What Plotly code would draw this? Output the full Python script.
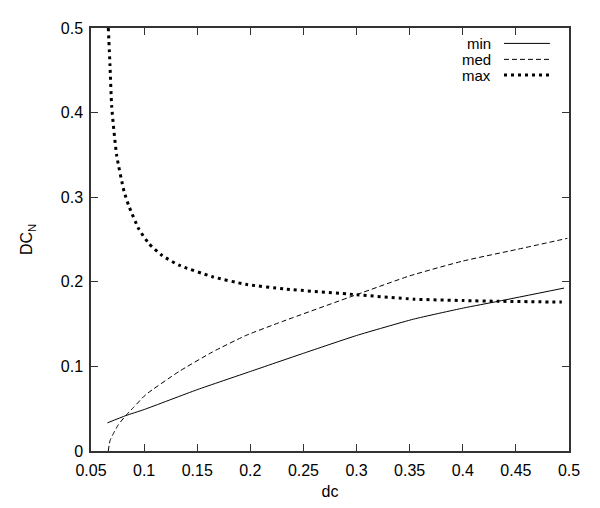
import plotly.graph_objects as go

# ---- data ----
min_x = [0.0655, 0.0827, 0.100, 0.150, 0.200, 0.250, 0.300, 0.3535, 0.4006, 0.4335, 0.4954]
min_y = [0.0333, 0.0418, 0.0490, 0.0725, 0.0940, 0.1155, 0.1365, 0.1558, 0.1690, 0.1770, 0.1926]

med_x = [0.0663, 0.0672, 0.0680, 0.0710, 0.0757, 0.0827, 0.0900, 0.1015, 0.1329, 0.1643, 0.1957,
         0.2300, 0.3000, 0.3500, 0.4000, 0.4500, 0.4985]
med_y = [0.0000, 0.0080, 0.0125, 0.0205, 0.0310, 0.0418, 0.0515, 0.0665, 0.0940, 0.1170, 0.1365,
         0.1530, 0.1848, 0.2070, 0.2245, 0.2380, 0.2514]

max_x = [0.0663, 0.0679, 0.0695, 0.0742, 0.0811, 0.0858, 0.0952, 0.1046, 0.1171, 0.1329,
         0.1643, 0.1957, 0.2333, 0.3000, 0.3535, 0.4006, 0.4335, 0.4932]
max_y = [0.500, 0.455, 0.407, 0.349, 0.307, 0.289, 0.262, 0.245, 0.231, 0.2196,
         0.206, 0.197, 0.1914, 0.1848, 0.1795, 0.1778, 0.1770, 0.1760]

x_tickvals = [0.05, 0.1, 0.15, 0.2, 0.25, 0.3, 0.35, 0.4, 0.45, 0.5]
x_ticktext = ["0.05", "0.1", "0.15", "0.2", "0.25", "0.3", "0.35", "0.4", "0.45", "0.5"]
y_tickvals = [0, 0.1, 0.2, 0.3, 0.4, 0.5]
y_ticktext = ["0", "0.1", "0.2", "0.3", "0.4", "0.5"]

series_names = ["min", "med", "max"]

FONT = "Liberation Sans, Arial, Helvetica, sans-serif"
FS = 16
FS_KEY = 15

fig = go.Figure()
fig.add_trace(go.Scatter(x=min_x, y=min_y, mode="lines", name=series_names[0],
                         line=dict(color="black", width=1, shape="spline", smoothing=0.5)))
fig.add_trace(go.Scatter(x=med_x, y=med_y, mode="lines", name=series_names[1],
                         line=dict(color="black", width=1, dash="5px,3px", shape="spline", smoothing=0.5)))
fig.add_trace(go.Scatter(x=max_x, y=max_y, mode="lines", name=series_names[2],
                         line=dict(color="black", width=3, dash="3px,4px", shape="spline", smoothing=0.5)))

# gnuplot-style key: text right-aligned, sample line to its right
key_rows = [0.9636, 0.9258, 0.8886]
key_styles = [dict(color="black", width=1),
              dict(color="black", width=1, dash="5px,3px"),
              dict(color="black", width=3, dash="3px,4px")]
for name, yy, st in zip(series_names, key_rows, key_styles):
    fig.add_annotation(x=0.842, y=yy, xref="paper", yref="paper", text=name,
                       showarrow=False, xanchor="right", yanchor="middle",
                       font=dict(family=FONT, size=FS_KEY, color="black"))
    fig.add_shape(type="line", xref="paper", yref="paper", x0=0.864, x1=0.960,
                  y0=yy, y1=yy, line=st)

axis_common = dict(
    showgrid=False, zeroline=False, showline=True, linecolor="#333", linewidth=1.5,
    mirror="ticks", ticks="inside", ticklen=7, tickwidth=1.2, tickcolor="#333",
    tickfont=dict(family=FONT, size=FS, color="black"),
)

fig.update_layout(
    width=600, height=508,
    margin=dict(l=83, r=39, t=12, b=65),
    paper_bgcolor="white", plot_bgcolor="white",
    showlegend=False,
    font=dict(family=FONT, size=FS, color="black"),
    xaxis=dict(range=[0.05, 0.5], tickvals=x_tickvals, ticktext=x_ticktext,
               ticklabelstandoff=4,
               title=dict(text="dc", standoff=8, font=dict(family=FONT, size=FS)),
               **axis_common),
    yaxis=dict(range=[0, 0.5], tickvals=y_tickvals, ticktext=y_ticktext,
               ticklabelstandoff=3,
               title=dict(text="DC<sub>N</sub>", standoff=24, font=dict(family=FONT, size=FS)),
               **axis_common),
)

fig.write_html("out.html")
